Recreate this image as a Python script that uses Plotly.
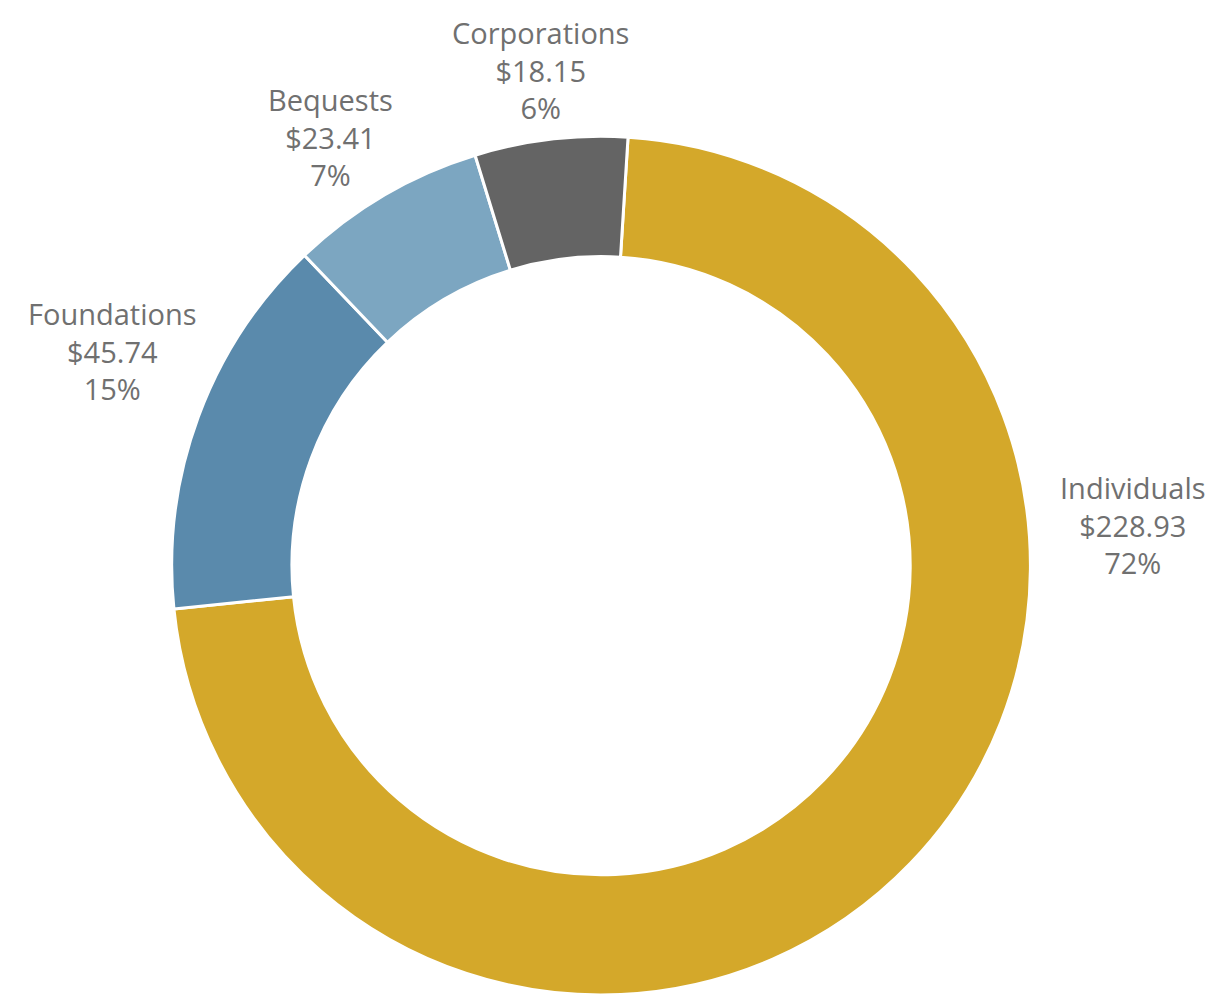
import plotly.graph_objects as go

# giving by source, $ billions
sources = ["Individuals", "Foundations", "Bequests", "Corporations"]
amounts = [228.93, 45.74, 23.41, 18.15]
pct_labels = ["72%", "15%", "7%", "6%"]

COLORS = {
    "Individuals":  "#D4A82A",
    "Foundations":  "#5A8AAC",
    "Bequests":     "#7CA6C1",
    "Corporations": "#646464",
}

# where the outside labels sit (paper coords, centre of the text block)
LABEL_POS = {
    "Individuals":  (0.935, 0.476),
    "Foundations":  (0.087, 0.652),
    "Bequests":     (0.268, 0.869),
    "Corporations": (0.443, 0.937),
}

fig = go.Figure(go.Pie(
    labels=sources, values=amounts,
    marker=dict(colors=[COLORS[s] for s in sources], line=dict(color="white", width=3)),
    hole=0.72, sort=False, direction="clockwise", rotation=3.6,
    textinfo="none", hoverinfo="label+value+percent",
    domain=dict(x=[0.135, 0.851], y=[0.0, 0.87]),
    showlegend=False,
))

for s, v, p in zip(sources, amounts, pct_labels):
    x, y = LABEL_POS[s]
    fig.add_annotation(
        x=x, y=y, xref="paper", yref="paper",
        text=f"{s}<br>${v:.2f}<br>{p}",
        showarrow=False, xanchor="center", yanchor="middle", align="center",
        font=dict(family="Open Sans", size=29, color="#707070"),
    )

fig.update_layout(
    autosize=True,
    margin=dict(l=0, r=0, t=0, b=0),
    paper_bgcolor="white", plot_bgcolor="white",
)

fig.write_html("out.html", config={"responsive": True})
